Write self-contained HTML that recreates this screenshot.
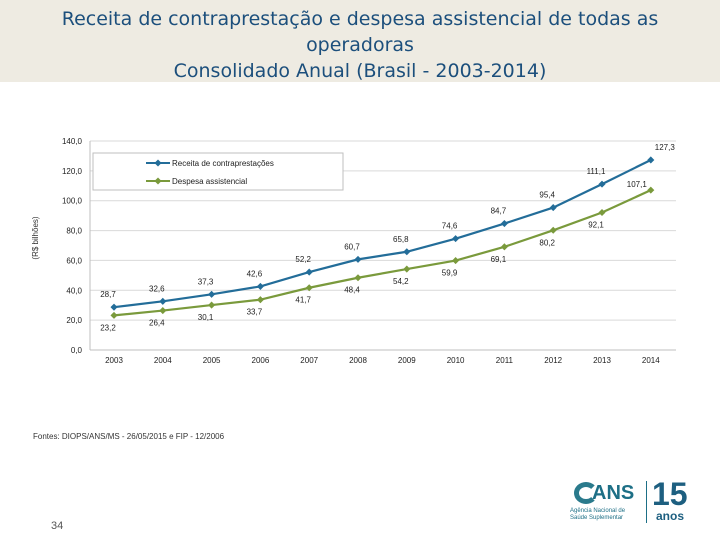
<!DOCTYPE html>
<html><head><meta charset="utf-8"><style>
body{margin:0;width:720px;height:540px;background:#fff;overflow:hidden;font-family:"Liberation Sans",sans-serif;position:relative}
#hdr{position:absolute;left:0;top:0;width:720px;height:82px;background:#eeebe2}
#title{position:absolute;left:0;top:6px;width:720px;text-align:center;font-family:"DejaVu Sans","Liberation Sans",sans-serif;font-size:19px;line-height:26px;color:#1c4f7c}
#src{position:absolute;left:33px;top:432px;font-size:8px;color:#333}
#pg{position:absolute;left:51px;top:520px;font-size:11px;color:#555}
</style></head><body>
<div id="hdr"></div>
<div id="title">Receita de contraprestação e despesa assistencial de todas as<br>operadoras<br>Consolidado Anual (Brasil - 2003-2014)</div>
<svg id="ch" width="720" height="540" style="position:absolute;left:0;top:0"></svg>
<div id="src">Fontes: DIOPS/ANS/MS - 26/05/2015 e FIP - 12/2006</div>
<div id="pg">34</div>
<div style="position:absolute;left:570px;top:478px;width:70px;height:50px">
<div style="position:absolute;left:4px;top:4px;width:24px;height:22px;border:5px solid #2a7a8c;border-right-color:transparent;border-radius:50%;box-sizing:border-box"></div>
<div style="position:absolute;left:22px;top:4px;font:bold 20px 'Liberation Sans',sans-serif;color:#1d6f86">ANS</div>
<div style="position:absolute;left:0;top:30px;font-size:6px;color:#1d6f86;line-height:7px">Agência Nacional de<br>Saúde Suplementar</div></div>
<div style="position:absolute;left:646px;top:481px;width:1px;height:42px;background:#1d6f86"></div>
<div style="position:absolute;left:652px;top:476px;font:bold 32px 'Liberation Sans',sans-serif;color:#1d5f80">15</div>
<div style="position:absolute;left:656px;top:509px;font:bold 12px 'Liberation Sans',sans-serif;color:#1d5f80">anos</div>
<script>
const years=['2003','2004','2005','2006','2007','2008','2009','2010','2011','2012','2013','2014'];
const receita=[28.7,32.6,37.3,42.6,52.2,60.7,65.8,74.6,84.7,95.4,111.1,127.3];
const despesa=[23.2,26.4,30.1,33.7,41.7,48.4,54.2,59.9,69.1,80.2,92.1,107.1];
const yTicks=[0,20,40,60,80,100,120,140];
const svg=document.getElementById('ch');const NS='http://www.w3.org/2000/svg';
function mk(t,a,p){const e=document.createElementNS(NS,t);for(const k in a)e.setAttribute(k,a[k]);(p||svg).appendChild(e);return e;}
const x=i=>114+i*48.8, y=v=>350-v*(209/140);
const fmt=v=>v.toFixed(1).replace('.',',');
yTicks.forEach(t=>{
 const g=mk('line',{x1:90,x2:676,y1:y(t),y2:y(t),stroke:t?'#d9d9d9':'#bfbfbf','stroke-width':1});
 
 
 const l=mk('text',{x:82,y:y(t)+3,'text-anchor':'end','font-size':8,fill:'#222'});l.textContent=fmt(t);
 
 
});
mk('line',{x1:90,x2:90,y1:y(140),y2:y(0),stroke:'#bfbfbf'});
years.forEach((yr,i)=>{const t=mk('text',{x:x(i),y:363,'text-anchor':'middle','font-size':8,fill:'#222'});t.textContent=yr;
 
 });
const yt=mk('text',{transform:'translate(38,238) rotate(-90)','text-anchor':'middle','font-size':8,fill:'#333'});yt.textContent='(R$ bilhões)';


function series(vals,col,name,above){
 const p=mk('polyline',{points:vals.map((v,i)=>x(i)+','+y(v)).join(' '),fill:'none',stroke:col,'stroke-width':2.2});
 
 
 vals.forEach((v,i)=>{
  const m=mk('rect',{x:x(i)-2.5,y:y(v)-2.5,width:5,height:5,fill:col,transform:`rotate(45 ${x(i)} ${y(v)})`});
  
  
  let lx=x(i)-6,ly=above?y(v)-10:y(v)+15;
  if(!above&&i==11){lx=x(i)-14;ly=y(v)-3;}
  if(above&&i==11){lx=x(i)+14;}
  const t=mk('text',{x:lx,y:ly,'text-anchor':'middle','font-size':8,fill:'#222'});t.textContent=fmt(v);
  
  
 });
}
series(receita,'#236d99','receita',true);
series(despesa,'#7a9a3c','despesa',false);
const lg=mk('rect',{x:93,y:153,width:250,height:37,fill:'#fff',stroke:'#bfbfbf'});


[['Receita de contraprestações','#236d99',163],['Despesa assistencial','#7a9a3c',181]].forEach(([n,c,yy])=>{
 mk('line',{x1:146,x2:170,y1:yy,y2:yy,stroke:c,'stroke-width':2});
 mk('rect',{x:155.5,y:yy-2.5,width:5,height:5,fill:c,transform:`rotate(45 158 ${yy})`});
 const t=mk('text',{x:172,y:yy+3,'font-size':8,fill:'#222'});t.textContent=n;
 
 
});
</script>
</body></html>
